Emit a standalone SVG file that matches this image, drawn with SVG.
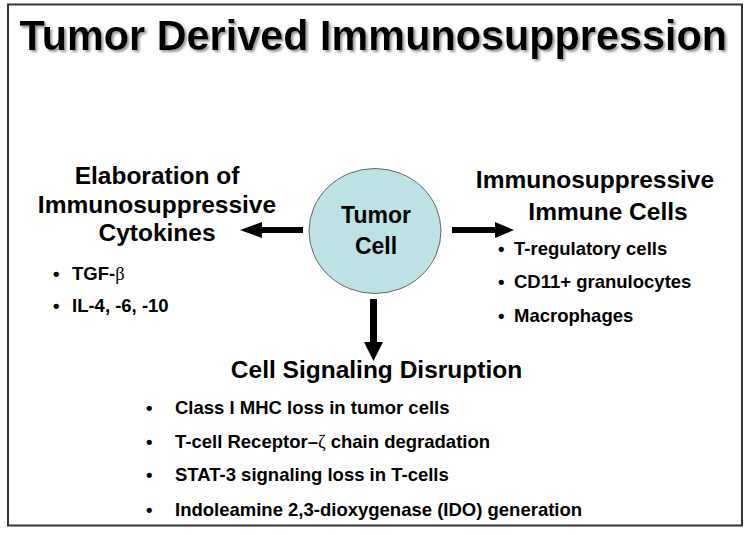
<svg xmlns="http://www.w3.org/2000/svg" width="750" height="535" viewBox="0 0 750 535">
<defs>
<filter id="shadow" x="-5%" y="-20%" width="110%" height="150%">
<feDropShadow dx="2" dy="2" stdDeviation="0.8" flood-color="#999" flood-opacity="1"/>
</filter>
</defs>
<style>
text{font-family:"Liberation Sans",Arial,sans-serif;font-weight:bold;fill:#000}
.h{font-size:24.5px;text-anchor:middle}
.b{font-size:18.5px}
.sym{font-family:"Liberation Serif","DejaVu Serif",serif;font-weight:normal}
.arrow{fill:#000}
</style>
<rect x="0" y="0" width="750" height="535" fill="#fff"/>
<rect x="8" y="4.5" width="734" height="521" fill="none" stroke="#333" stroke-width="2"/>
<g id="title">
<text transform="translate(19.5,50) scale(1,1.03)" x="0" y="0" font-size="41.4" filter="url(#shadow)">Tumor Derived Immunosuppression</text>
</g>
<g id="connectors">
<path class="arrow" d="M303,227 L262,227 L262,222 L240,230 L262,238 L262,233 L303,233 Z"/>
<path class="arrow" d="M452,227 L495,227 L495,222 L514,230 L495,238 L495,233 L452,233 Z"/>
<path class="arrow" d="M370,299 L377,299 L377,342 L383,342 L373.5,361 L364,342 L370,342 Z"/>
</g>
<g id="tumor-cell">
<ellipse cx="375" cy="231" rx="66" ry="62.5" fill="#bde2e6" stroke="#666" stroke-width="1"/>
<text x="376" y="223" font-size="23" text-anchor="middle">Tumor</text>
<text x="376" y="254" font-size="23" text-anchor="middle">Cell</text>
</g>
<g id="cytokines">
<text class="h" x="157" y="184">Elaboration of</text>
<text class="h" x="157" y="213">Immunosuppressive</text>
<text class="h" x="157" y="241">Cytokines</text>
<text class="b" x="53" y="280">•</text>
<text class="b" x="72" y="280">TGF-<tspan class="sym">β</tspan></text>
<text class="b" x="53" y="312">•</text>
<text class="b" x="72" y="312">IL-4, -6, -10</text>
</g>
<g id="immune-cells">
<text class="h" x="595" y="188">Immunosuppressive</text>
<text class="h" x="608" y="220">Immune Cells</text>
<text class="b" x="498" y="255">•</text>
<text class="b" x="514" y="255">T-regulatory cells</text>
<text class="b" x="498" y="288">•</text>
<text class="b" x="514" y="288">CD11+ granulocytes</text>
<text class="b" x="498" y="322">•</text>
<text class="b" x="514" y="322">Macrophages</text>
</g>
<g id="signaling">
<text class="h" x="376.5" y="378">Cell Signaling Disruption</text>
<text class="b" x="146" y="414">•</text>
<text class="b" x="175" y="414">Class I MHC loss in tumor cells</text>
<text class="b" x="146" y="448">•</text>
<text class="b" x="175" y="448">T-cell Receptor–<tspan class="sym">ζ</tspan> chain degradation</text>
<text class="b" x="146" y="481">•</text>
<text class="b" x="175" y="481">STAT-3 signaling loss in T-cells</text>
<text class="b" x="146" y="516">•</text>
<text class="b" x="175" y="516">Indoleamine 2,3-dioxygenase (IDO) generation</text>
</g>
</svg>
